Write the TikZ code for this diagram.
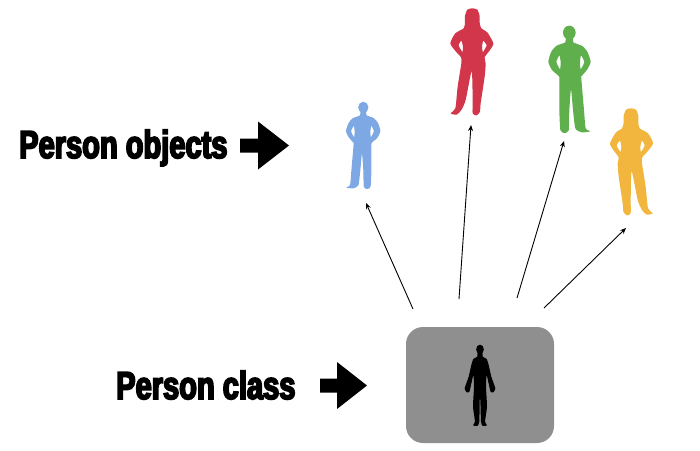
\documentclass[tikz,border=0pt]{standalone}
\usepackage{fontspec}
\setmainfont[FakeStretch=0.745,FakeBold=4.5]{Liberation Sans Bold}
\usetikzlibrary{arrows.meta}
\definecolor{cblue}{HTML}{7EA8E4}
\definecolor{cred}{HTML}{D2364B}
\definecolor{cgreen}{HTML}{5FAF4C}
\definecolor{cyellow}{HTML}{F2B63F}
\definecolor{cbox}{HTML}{8F8F8F}
\newcommand{\malefig}{%
  \fill (118,68) ellipse (19 and 21);
  \fill[even odd rule] plot[smooth cycle,tension=0.35] coordinates {(108,82)(106,97)(80,107)(64,125)(55,155)(66,180)(86,198)(88,210)(88,300)(91,360)(102,369)(116,362)(118,300)(123,238)(129,300)(136,355)(155,367)(181,364)(167,355)(162,300)(154,205)(156,197)(172,178)(182,155)(172,125)(157,108)(130,97)(128,82)}
  plot[smooth cycle,tension=0.3] coordinates {(88,136)(79,156)(90,178)(92,156)}
  plot[smooth cycle,tension=0.3] coordinates {(153,136)(163,156)(152,178)(150,156)};
}
\newcommand{\femalefig}{%
  \fill[even odd rule] plot[smooth cycle,tension=0.4] coordinates {(427,25)(442,29)(449,48)(449,68)(454,85)(472,97)(490,130)(480,150)(464,172)(467,190)(464,230)(452,310)(450,335)(440,346)(428,340)(428,300)(425,214)(407,300)(394,330)(380,344)(362,340)(376,325)(383,260)(394,190)(393,172)(378,155)(361,130)(376,100)(401,85)(405,68)(405,48)(412,29)}
  plot[smooth cycle,tension=0.3] coordinates {(394,122)(386,136)(397,156)(399,140)}
  plot[smooth cycle,tension=0.3] coordinates {(460,122)(470,136)(459,156)(456,140)};
}
\newcommand{\bodyfig}{%
  \fill (240,88) ellipse (11.5 and 14);
  \fill plot[smooth cycle,tension=0.3] coordinates {(232,100)(232,110)(220,117)(214,135)(206,170)(194,205)(200,217)(208,216)(212,200)(220,165)(222,200)(219,260)(225,305)(219,316)(232,318)(238,305)(239,240)(241,240)(243,305)(248,318)(261,316)(255,305)(261,260)(258,200)(260,165)(268,200)(272,216)(280,217)(286,205)(274,170)(266,135)(260,117)(248,110)(248,100)};
}
\tikzset{
  lbl/.style={anchor=base west,inner sep=0pt,text=black,font=\fontsize{39}{39}\selectfont},
  conn/.style={draw=black,line width=0.9pt,-{Stealth[length=6pt,width=5pt]}},
  classbox/.style={fill=cbox,rounded corners=17pt}
}
\begin{document}
\begin{tikzpicture}[x=1pt,y=-1pt]
\useasboundingbox (0,0) rectangle (700,450);
\fill[classbox] (406,327) rectangle (554,443);
\begin{scope}[fill=black,shift={(400,320)},x=0.3333pt,y=-0.3333pt]\bodyfig\end{scope}
\begin{scope}[fill=cblue,shift={(363.3,102)},x=-0.2708pt,y=-0.2708pt]\begin{scope}[shift={(-118,-48)}]\malefig\end{scope}\end{scope}
\begin{scope}[fill=cred,shift={(330,0)},x=0.3333pt,y=-0.3333pt]\femalefig\end{scope}
\begin{scope}[fill=cgreen,shift={(530,10)},x=0.3333pt,y=-0.3333pt]\malefig\end{scope}
\begin{scope}[fill=cyellow,shift={(631,100)},x=-0.3333pt,y=-0.3333pt]\begin{scope}[shift={(-427,0)}]\femalefig\end{scope}\end{scope}
\node[lbl] (objlabel) at (19,158) {Person objects};
\node[lbl] (classlabel) at (116,399) {Person class};
\fill[black] (240,138.5)--(258,138.5)--(258,121.5)--(289,145.5)--(258,169.5)--(258,152.5)--(240,152.5)--cycle;
\fill[black] (320,378.5)--(337,378.5)--(337,362)--(367,385.5)--(337,409)--(337,392.5)--(320,392.5)--cycle;
\coordinate (s1) at (413,309); \coordinate (t1) at (366,203);
\coordinate (s2) at (459,299); \coordinate (t2) at (471,125);
\coordinate (s3) at (517,298); \coordinate (t3) at (564,141);
\coordinate (s4) at (544,308); \coordinate (t4) at (626,228);
\draw[conn] (s1)--(t1);
\draw[conn] (s2)--(t2);
\draw[conn] (s3)--(t3);
\draw[conn] (s4)--(t4);
\end{tikzpicture}
\end{document}
